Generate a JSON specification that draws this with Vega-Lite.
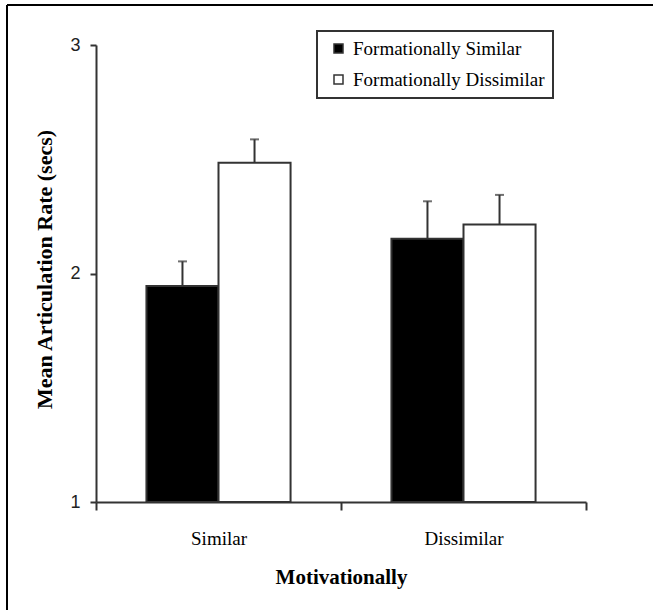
{
  "$schema": "https://vega.github.io/schema/vega-lite/v6.json",
  "autosize": {"type": "none"},
  "width": 646,
  "height": 605,
  "padding": {"left": 7, "top": 5, "right": 0, "bottom": 0},
  "background": "white",
  "config": {
    "view": {"stroke": "black", "strokeWidth": 2, "strokeDash": [646, 1251, 605, 0]},
    "axis": {"grid": false, "domainColor": "#333", "domainWidth": 2, "tickColor": "#333", "tickWidth": 2},
    "legend": {"strokeWidth": 2}
  },
  "data": {
    "values": [
      {"motivation": "Similar", "formation": "Formationally Similar", "mean": 1.945, "upper": 2.053},
      {"motivation": "Similar", "formation": "Formationally Dissimilar", "mean": 2.485, "upper": 2.587},
      {"motivation": "Dissimilar", "formation": "Formationally Similar", "mean": 2.152, "upper": 2.316},
      {"motivation": "Dissimilar", "formation": "Formationally Dissimilar", "mean": 2.214, "upper": 2.344}
    ]
  },
  "encoding": {
    "x": {
      "field": "motivation",
      "type": "nominal",
      "sort": ["Similar", "Dissimilar"],
      "scale": {"type": "band", "range": [89, 579], "paddingInner": 0, "paddingOuter": 0},
      "axis": {
        "orient": "bottom",
        "offset": -108,
        "tickBand": "extent",
        "tickSize": 8,
        "labelPadding": 19,
        "labelAngle": 0,
        "labelFont": "Liberation Serif",
        "labelFontSize": 19,
        "labelColor": "black",
        "title": "Motivationally",
        "titleFont": "Liberation Serif",
        "titleFontSize": 21,
        "titleFontWeight": "bold",
        "titleColor": "black",
        "titleY": 81,
        "titleBaseline": "alphabetic"
      }
    },
    "xOffset": {
      "field": "formation",
      "type": "nominal",
      "sort": ["Formationally Similar", "Formationally Dissimilar"],
      "scale": {"paddingInner": 0, "paddingOuter": 0.7}
    }
  },
  "layer": [
    {
      "mark": {"type": "bar", "stroke": "#333", "strokeWidth": 2},
      "encoding": {
        "y": {
          "field": "mean",
          "type": "quantitative",
          "scale": {"domain": [1, 3], "range": [497, 40], "nice": false, "zero": false},
          "axis": {
            "orient": "left",
            "offset": -89,
            "values": [1, 2, 3],
            "labelExpr": "format(datum.value, 'd')",
            "labelOverlap": false,
            "tickSize": 6,
            "labelPadding": 10,
            "labelFont": "Liberation Sans",
            "labelFontSize": 18,
            "labelColor": "#222",
            "title": "Mean Articulation Rate (secs)",
            "titleFont": "Liberation Serif",
            "titleFontSize": 22,
            "titleFontWeight": "bold",
            "titleColor": "black",
            "titleX": -45,
            "titleY": 264,
            "titleBaseline": "alphabetic"
          }
        },
        "y2": {"datum": 1},
        "fill": {
          "field": "formation",
          "type": "nominal",
          "sort": ["Formationally Similar", "Formationally Dissimilar"],
          "scale": {"domain": ["Formationally Similar", "Formationally Dissimilar"], "range": ["black", "white"]},
          "legend": {
            "title": null,
            "orient": "none",
            "legendX": 310,
            "legendY": 26,
            "padding": 8,
            "strokeColor": "#333",
            "symbolType": "square",
            "symbolSize": 81,
            "symbolStrokeColor": "#333",
            "symbolStrokeWidth": 1.5,
            "symbolOffset": 4,
            "labelOffset": 5,
            "labelFont": "Liberation Serif",
            "labelFontSize": 19,
            "labelColor": "black",
            "labelLimit": 400,
            "rowPadding": 11
          }
        }
      }
    },
    {
      "mark": {"type": "rule", "color": "#333", "strokeWidth": 2},
      "encoding": {
        "y": {"field": "mean", "type": "quantitative"},
        "y2": {"field": "upper"}
      }
    },
    {
      "mark": {"type": "tick", "color": "#333", "thickness": 2, "size": 9, "orient": "horizontal"},
      "encoding": {
        "y": {"field": "upper", "type": "quantitative"}
      }
    }
  ]
}
